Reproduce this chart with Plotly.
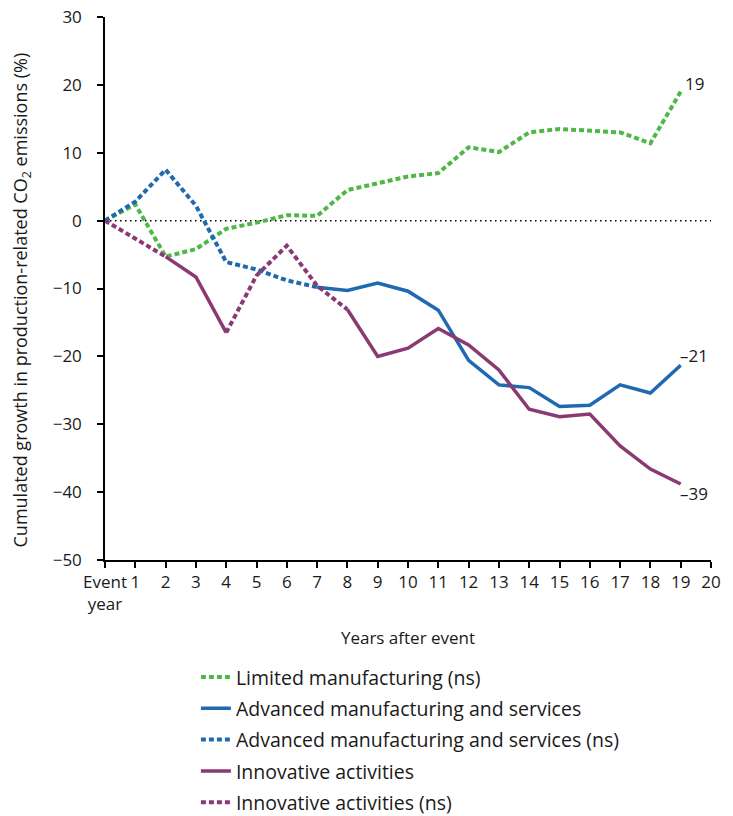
import plotly.graph_objects as go

# Years after the event (0 = event year)
years = list(range(0, 20))
tick_vals = list(range(0, 21))
tick_text = ["Event<br>year"] + [str(i) for i in range(1, 21)]

# Cumulated growth in production-related CO2 emissions (%)
limited_mfg = [0, 2.4, -5.3, -4.2, -1.2, -0.3, 0.8, 0.7, 4.5, 5.5, 6.5, 7.0,
               10.8, 10.1, 13.0, 13.5, 13.3, 13.0, 11.4, 19.0]
advanced_mfg = [0, 2.8, 7.5, 2.2, -6.1, -7.2, -8.8, -9.8, -10.3, -9.2, -10.4, -13.2,
                -20.6, -24.2, -24.6, -27.4, -27.2, -24.2, -25.4, -21.3]
innovative = [0, -2.6, -5.3, -8.3, -16.5, -8.1, -3.7, -9.6, -13.1, -20.0, -18.8, -15.9,
              -18.3, -22.0, -27.8, -28.9, -28.5, -33.2, -36.6, -38.8]

# Year spans where the estimate is statistically significant
advanced_sig = [(7, 19)]
innovative_sig = [(2, 4), (8, 19)]

# End-of-line value labels
end_labels = {"limited": "19", "advanced": "–21", "innovative": "–39"}

y_title = "Cumulated growth in production-related CO<sub>2</sub> emissions (%)"
x_title = "Years after event"

GREEN = "#4FB748"
BLUE = "#1F69B0"
PURPLE = "#8A3A72"
TEXT = "#1a1a1a"
FONT = "Open Sans"
FS = 17
FS_LEGEND = 19.5
FS_YTITLE = 18


def split_series(values, spans):
    """Return (significant, non-significant) copies with gaps as None."""
    sig = [None] * len(values)
    for a, b in spans:
        for i in range(a, b + 1):
            sig[i] = values[i]
    ns = [None] * len(values)
    for i in range(len(values) - 1):
        seg_sig = any(a <= i and i + 1 <= b for a, b in spans)
        if not seg_sig:
            ns[i] = values[i]
            ns[i + 1] = values[i + 1]
    return sig, ns


adv_sig, adv_ns = split_series(advanced_mfg, advanced_sig)
inn_sig, inn_ns = split_series(innovative, innovative_sig)

DOT = "5px,3px"

fig = go.Figure()

fig.add_trace(go.Scatter(
    x=years, y=limited_mfg, mode="lines", name="Limited manufacturing (ns)",
    line=dict(color=GREEN, width=4, dash=DOT), legendgroup="a"))
fig.add_trace(go.Scatter(
    x=years, y=adv_sig, mode="lines", name="Advanced manufacturing and services",
    line=dict(color=BLUE, width=3.5), connectgaps=False, legendgroup="b"))
fig.add_trace(go.Scatter(
    x=years, y=adv_ns, mode="lines", name="Advanced manufacturing and services (ns)",
    line=dict(color=BLUE, width=4, dash=DOT), connectgaps=False, legendgroup="c"))
fig.add_trace(go.Scatter(
    x=years, y=inn_sig, mode="lines", name="Innovative activities",
    line=dict(color=PURPLE, width=3.5), connectgaps=False, legendgroup="d"))
fig.add_trace(go.Scatter(
    x=years, y=inn_ns, mode="lines", name="Innovative activities (ns)",
    line=dict(color=PURPLE, width=4, dash=DOT), connectgaps=False, legendgroup="e"))

# Zero reference line
fig.add_shape(type="line", xref="x", yref="y", x0=0, x1=20, y0=0, y1=0,
              line=dict(color="black", width=1.5, dash="1.5px,3.5px"), layer="below")

# End labels
lab_font = dict(size=FS, color=TEXT, family=FONT)
fig.add_annotation(x=19, y=limited_mfg[-1], text=end_labels["limited"], showarrow=False,
                   xanchor="left", yanchor="middle", xshift=2, yshift=8, font=lab_font)
fig.add_annotation(x=19, y=advanced_mfg[-1], text=end_labels["advanced"], showarrow=False,
                   xanchor="left", yanchor="middle", xshift=-3, yshift=10, font=lab_font)
fig.add_annotation(x=19, y=innovative[-1], text=end_labels["innovative"], showarrow=False,
                   xanchor="left", yanchor="middle", xshift=-3, yshift=-10, font=lab_font)

# Vertical axis title
fig.add_annotation(xref="paper", yref="paper", x=-0.137, y=0.5, yshift=-11, text=y_title,
                   textangle=-90, showarrow=False, xanchor="center", yanchor="middle",
                   font=dict(size=FS_YTITLE, color=TEXT, family=FONT))

fig.update_layout(
    width=733, height=816,
    margin=dict(l=105, r=22, t=17, b=256, autoexpand=False),
    paper_bgcolor="white", plot_bgcolor="white",
    font=dict(family=FONT, size=FS, color=TEXT),
    showlegend=True,
    legend=dict(x=0.15, y=-0.18, xanchor="left", yanchor="top",
                tracegroupgap=3, font=dict(size=FS_LEGEND, color=TEXT, family=FONT),
                bgcolor="rgba(0,0,0,0)", traceorder="grouped"),
    xaxis=dict(range=[0, 20], tickvals=tick_vals, ticktext=tick_text,
               showgrid=False, zeroline=False, showline=True, linecolor="black",
               linewidth=1.5, ticks="outside", ticklen=6, tickcolor="black",
               tickwidth=1.5, tickangle=0, automargin=False,
               title=dict(text=x_title, standoff=18,
                          font=dict(size=FS, color=TEXT, family=FONT))),
    yaxis=dict(range=[-50, 30], dtick=10, showgrid=False, zeroline=False,
               showline=True, linecolor="black", linewidth=1.5,
               ticks="outside", ticklen=6, tickcolor="black", tickwidth=1.5,
               tickformat="d", automargin=False, ticklabelstandoff=12),
)

fig.write_html("out.html")
